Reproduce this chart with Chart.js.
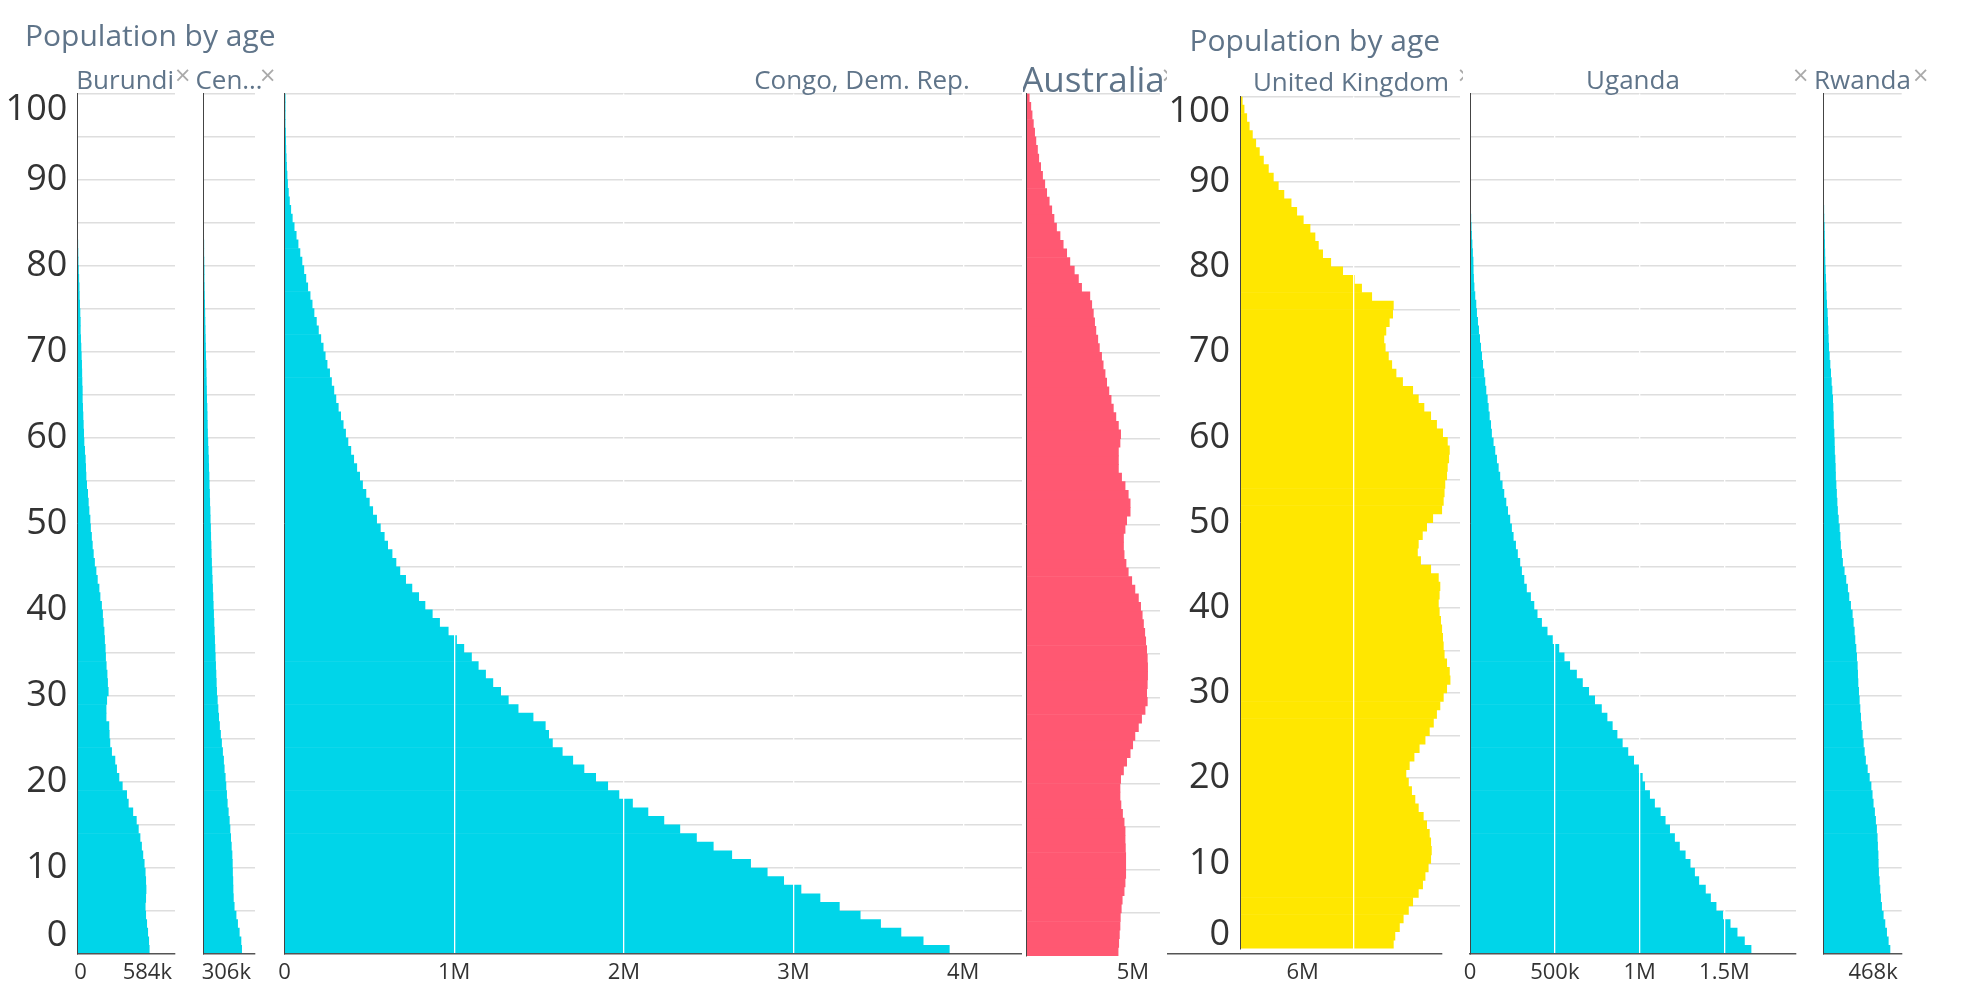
<!DOCTYPE html>
<html>
<head>
<meta charset="utf-8">
<script src="https://cdn.jsdelivr.net/npm/chart.js"></script>
<style>
  html, body { margin: 0; padding: 0; background: #fff; }
  body { width: 1981px; height: 987px; position: relative; overflow: hidden; font-family: 'Open Sans', sans-serif; }
  #stage, #labels { position: absolute; left: 0; top: 0; width: 1981px; height: 987px; }
  #labels { z-index: 2; }
  .head { position: absolute; font-size: 30px; line-height: 30px; color: #5f7489; white-space: nowrap; }
  .ttl { position: absolute; font-size: 26px; line-height: 26px; color: #5f7489; white-space: nowrap; transform: translateX(-50%); }
  .big { font-size: 35px; line-height: 35px; }
  .x { position: absolute; font-size: 27px; line-height: 27px; color: #aaa; }
  .clip { position: absolute; overflow: hidden; }
</style>
</head>
<body>
<div id="stage"></div>
<div id="labels">
  <div class="head" style="left:25px;top:20px">Population by age</div>
  <div class="head" style="left:1189.5px;top:25px">Population by age</div>

  <div class="ttl" style="left:125.2px;top:66px">Burundi</div>
  <div class="x" style="left:175px;top:61px">×</div>
  <div class="ttl" style="left:229px;top:66px">Cen…</div>
  <div class="x" style="left:260px;top:61px">×</div>
  <div class="ttl" style="left:862px;top:66px">Congo, Dem. Rep.</div>

  <div class="clip" style="left:1022.7px;top:50px;width:144px;height:50px">
    <div class="ttl big" style="left:70.3px;top:10.6px">Australia</div>
    <div class="x" style="left:139px;top:11px">×</div>
  </div>
  <div class="clip" style="left:1166.7px;top:50px;width:296.3px;height:50px">
    <div class="ttl" style="left:184.3px;top:18px">United Kingdom</div>
    <div class="x" style="left:291px;top:11px">×</div>
  </div>

  <div class="ttl" style="left:1633px;top:66px">Uganda</div>
  <div class="x" style="left:1793px;top:61px">×</div>
  <div class="ttl" style="left:1862.5px;top:66px">Rwanda</div>
  <div class="x" style="left:1913px;top:61px">×</div>
</div>

<script>
// ages 0..99, one bar per single year of age
const ages = Array.from({ length: 100 }, (_, i) => i);
const yGridAges = [0, 5, 10, 15, 20, 25, 30, 35, 40, 45, 50, 55, 60, 65, 70, 75, 80, 85, 90, 95, 100];
const yTickLabels = [0, 10, 20, 30, 40, 50, 60, 70, 80, 90, 100];

// population by age, thousands
const burundi = [
  430, 427, 421, 415, 409, 406, 409, 411, 409, 406,
  400, 392, 384, 375, 365, 353, 332, 305, 295, 269,
  249, 235, 225, 205, 195, 191, 189, 172, 172, 176,
  185, 181, 178, 173, 169, 167, 163, 160, 155, 151,
  145, 136, 130, 120, 112, 103, 96, 90, 85, 79,
  76, 70, 66, 62, 56, 52, 50, 48, 44, 40,
  38, 36, 34, 32, 30, 30, 28, 27, 26, 24,
  22, 20, 18, 18, 16, 14, 12, 11, 9, 7,
  5, 4, 3, 2, 2, 2, 1, 1, 1, 1,
  1, 1, 0, 0, 0, 0, 0, 0, 0, 0
];
const centralAfricanRep = [
  227, 223, 213, 203, 194, 183, 178, 176, 175, 173,
  172, 170, 166, 162, 158, 154, 148, 142, 138, 134,
  130, 124, 120, 114, 108, 102, 96, 91, 87, 83,
  79, 77, 75, 73, 71, 69, 67, 65, 63, 61,
  59, 57, 55, 53, 51, 49, 47, 46, 44, 43,
  41, 40, 38, 37, 35, 34, 32, 31, 29, 27,
  25, 24, 23, 22, 20, 19, 18, 17, 16, 14,
  13, 12, 11, 10, 9, 8, 7, 6, 5, 5,
  4, 3, 3, 2, 2, 2, 1, 1, 1, 1,
  1, 0, 0, 0, 0, 0, 0, 0, 0, 0
];
const congoDemRep = [
  3918, 3764, 3633, 3513, 3393, 3270, 3156, 3044, 2942, 2845,
  2747, 2636, 2527, 2428, 2330, 2236, 2142, 2051, 1971, 1905,
  1834, 1765, 1699, 1637, 1579, 1557, 1537, 1465, 1377, 1319,
  1274, 1228, 1185, 1142, 1102, 1057, 1014, 965, 914, 871,
  828, 791, 751, 714, 680, 657, 634, 608, 588, 565,
  543, 520, 500, 480, 460, 443, 426, 408, 391, 374,
  360, 346, 331, 317, 303, 291, 277, 266, 251, 240,
  228, 214, 200, 188, 174, 163, 151, 137, 126, 114,
  103, 91, 80, 69, 57, 46, 37, 29, 23, 18,
  15, 12, 10, 8, 7, 6, 4, 3, 2, 1
];
const australia = [
  288, 290, 292, 294, 295, 298, 301, 307, 310, 312,
  312, 312, 311, 310, 310, 307, 302, 297, 294, 294,
  296, 305, 315, 326, 334, 341, 352, 362, 373, 380,
  378, 380, 381, 381, 380, 378, 375, 372, 368, 364,
  359, 352, 341, 331, 320, 313, 307, 305, 305, 310,
  315, 326, 326, 320, 310, 299, 289, 289, 289, 294,
  296, 289, 281, 273, 266, 259, 252, 247, 241, 236,
  229, 224, 218, 214, 210, 205, 199, 173, 163, 150,
  136, 126, 115, 105, 94, 86, 79, 71, 63, 57,
  50, 44, 38, 34, 29, 25, 21, 17, 13, 8
];
const unitedKingdom = [
  678, 685, 705, 722, 745, 764, 789, 808, 819, 833,
  844, 847, 844, 838, 826, 811, 789, 774, 759, 745,
  734, 749, 770, 793, 819, 838, 856, 870, 885, 900,
  915, 930, 927, 915, 904, 900, 897, 893, 888, 882,
  878, 882, 885, 878, 844, 799, 785, 789, 807, 826,
  853, 893, 900, 904, 907, 915, 918, 924, 927, 918,
  897, 870, 844, 814, 789, 764, 719, 690, 671, 656,
  642, 636, 645, 660, 675, 678, 582, 537, 505, 453,
  400, 364, 345, 330, 308, 278, 249, 224, 192, 167,
  145, 123, 101, 83, 67, 52, 38, 27, 15, 7
];
const uganda = [
  1657, 1618, 1575, 1534, 1490, 1451, 1418, 1388, 1349, 1324,
  1298, 1269, 1235, 1206, 1177, 1151, 1122, 1088, 1059, 1030,
  1016, 994, 965, 931, 898, 867, 839, 808, 775, 735,
  700, 663, 628, 588, 555, 524, 486, 455, 422, 396,
  377, 357, 333, 318, 304, 294, 280, 269, 255, 245,
  235, 222, 212, 200, 190, 176, 167, 157, 147, 137,
  127, 122, 114, 108, 102, 94, 88, 82, 75, 69,
  63, 57, 51, 45, 39, 35, 29, 24, 21, 19,
  18, 15, 12, 9, 7, 5, 4, 3, 2, 1,
  1, 1, 0, 0, 0, 0, 0, 0, 0, 0
];
const rwanda = [
  398, 388, 378, 368, 358, 348, 342, 338, 334, 330,
  328, 327, 324, 322, 318, 312, 306, 298, 292, 285,
  275, 263, 252, 245, 239, 233, 227, 223, 219, 215,
  211, 207, 205, 203, 199, 195, 189, 185, 179, 173,
  163, 153, 145, 135, 125, 115, 109, 103, 100, 96,
  90, 85, 82, 79, 76, 73, 72, 70, 67, 66,
  64, 61, 60, 58, 56, 52, 48, 44, 40, 36,
  32, 30, 28, 26, 24, 20, 18, 16, 14, 12,
  10, 9, 8, 7, 6, 4, 3, 2, 2, 1,
  1, 1, 1, 1, 0, 0, 0, 0, 0, 0
];

// x tick values per panel (thousands)
const burundiTicks = [0, 584];
const carTicks = [306];
const congoTicks = [0, 1000, 2000, 3000, 4000, 5000, 6000];
const ukTicks = [0, 500];
const ugandaTicks = [0, 500, 1000, 1500];
const rwandaTicks = [468];

const CYAN = '#00d5e9', PINK = '#ff5872', YELLOW = '#ffe700';
const FONT = "'Open Sans', sans-serif";
Chart.defaults.font.family = FONT;

function fmt(v) {
  if (v === 0) return '0';
  return v >= 1000 ? (v / 1000) + 'M' : v + 'k';
}

// age labels with the first and last one kept inside the plot
const flushY = {
  id: 'flushY',
  afterDraw(chart, args, o) {
    if (!o || !o.values) return;
    const y = chart.scales.y, ctx = chart.ctx;
    ctx.save();
    ctx.font = '36px ' + FONT;
    ctx.fillStyle = '#333';
    ctx.textAlign = 'right';
    ctx.textBaseline = 'middle';
    o.values.forEach(v => {
      let py = y.getPixelForValue(v);
      if (v === y.max) py += o.topShift;
      else if (v === y.min) py -= o.bottomShift;
      ctx.fillText(String(v), chart.chartArea.left - o.gap, py);
    });
    ctx.restore();
  }
};

const stage = document.getElementById('stage');
const LABEL_H = 33;

function panel(p) {
  const L = Math.floor(p.l - p.padL), R = Math.ceil(p.r + p.padR);
  const T = Math.floor(p.t - p.padT), B = Math.ceil(p.b + p.padB);
  const box = document.createElement('div');
  box.style.cssText = `position:absolute;left:${L}px;top:${T}px;width:${R - L}px;height:${B - T}px;` +
    (p.bg ? 'background:#fff;' : '');
  const cv = document.createElement('canvas');
  cv.width = R - L; cv.height = B - T;
  box.appendChild(cv);
  stage.appendChild(box);

  const hasLabels = !!p.ticks && p.tickLabels !== false;
  const labH = hasLabels ? LABEL_H : 0;

  return new Chart(cv, {
    type: 'bar',
    data: {
      datasets: [{
        data: p.values.map((v, i) => ({ x: v, y: ages[i] + 0.5 })),
        backgroundColor: p.color,
        borderWidth: 0,
        barPercentage: 1,
        categoryPercentage: 1
      }]
    },
    options: {
      indexAxis: 'y',
      responsive: false,
      animation: false,
      layout: { padding: { left: p.l - L, right: R - p.r, top: p.t - T, bottom: B - p.b - labH } },
      plugins: { legend: { display: false }, tooltip: { enabled: false }, flushY: p.yLabels || false },
      scales: {
        x: {
          type: 'linear', min: 0, max: p.xMax, offset: false,
          display: p.ticks ? true : false,
          afterBuildTicks: s => { s.ticks = (p.ticks || []).map(v => ({ value: v })); },
          afterFit: s => { s.height = labH; },
          grid: {
            display: p.whiteGrid === true, drawTicks: false, offset: false, z: 1, lineWidth: 1.3,
            color: c => (c.tick && c.tick.value > 0) ? '#ffffff' : 'rgba(0,0,0,0)'
          },
          border: { display: p.xBorder !== false, color: '#555', width: 1.5, z: 1 },
          ticks: {
            display: hasLabels,
            align: p.align || 'center',
            labelOffset: p.labelOffset || 0,
            padding: 6, maxRotation: 0, autoSkip: false,
            color: '#333', font: { size: 22 },
            callback: v => fmt(v)
          }
        },
        y: {
          type: 'linear', min: 0, max: 100, offset: false,
          afterBuildTicks: s => { s.ticks = yGridAges.map(v => ({ value: v })); },
          afterFit: s => { s.width = 0; },
          ticks: { display: false },
          grid: {
            drawTicks: false, offset: false, lineWidth: 1.5,
            color: c => (c.tick && c.tick.value > 0) ? '#dedede' : 'rgba(0,0,0,0)'
          },
          border: { display: true, color: '#444', width: 1, z: 1 }
        }
      }
    },
    plugins: p.yLabels ? [flushY] : []
  });
}

const TOP = 93.6, BOTTOM = 954;

panel({ values: burundi, color: CYAN, xMax: 584, ticks: burundiTicks, align: 'inner', labelOffset: -3,
  l: 77.3, r: 175, t: TOP, b: BOTTOM, padL: 77.3, padR: 8, padT: 8, padB: 33,
  yLabels: { values: yTickLabels, gap: 10, topShift: 16.4, bottomShift: 18 } });

panel({ values: centralAfricanRep, color: CYAN, xMax: 306, ticks: carTicks, align: 'inner', labelOffset: -4,
  l: 203.3, r: 255, t: TOP, b: BOTTOM, padL: 8, padR: 8, padT: 8, padB: 33 });

panel({ values: congoDemRep, color: CYAN, xMax: 6820, ticks: congoTicks, whiteGrid: true,
  l: 284.5, r: 1441.7, t: TOP, b: BOTTOM, padL: 20, padR: 20, padT: 8, padB: 33 });

panel({ values: australia, color: PINK, xMax: 420, bg: true, xBorder: false,
  l: 1026.7, r: 1160, t: TOP, b: 956, padL: 4, padR: 6.7, padT: 8.6, padB: 1.5 });

panel({ values: unitedKingdom, color: YELLOW, xMax: 974, ticks: ukTicks, whiteGrid: true,
  tickLabels: false, xBorder: false, bg: true,
  l: 1240.7, r: 1460, t: 96.5, b: 948.6, padL: 74, padR: 3, padT: 11.5, padB: 2.9,
  yLabels: { values: yTickLabels, gap: 10.5, topShift: 15, bottomShift: 14 } });

panel({ values: uganda, color: CYAN, xMax: 1922, ticks: ugandaTicks, whiteGrid: true,
  l: 1470, r: 1796, t: TOP, b: BOTTOM, padL: 20, padR: 8, padT: 8, padB: 33 });

panel({ values: rwanda, color: CYAN, xMax: 468, ticks: rwandaTicks, align: 'inner', labelOffset: -4,
  l: 1823.3, r: 1901.7, t: TOP, b: BOTTOM, padL: 8, padR: 8, padT: 8, padB: 33 });
</script>
</body>
</html>
